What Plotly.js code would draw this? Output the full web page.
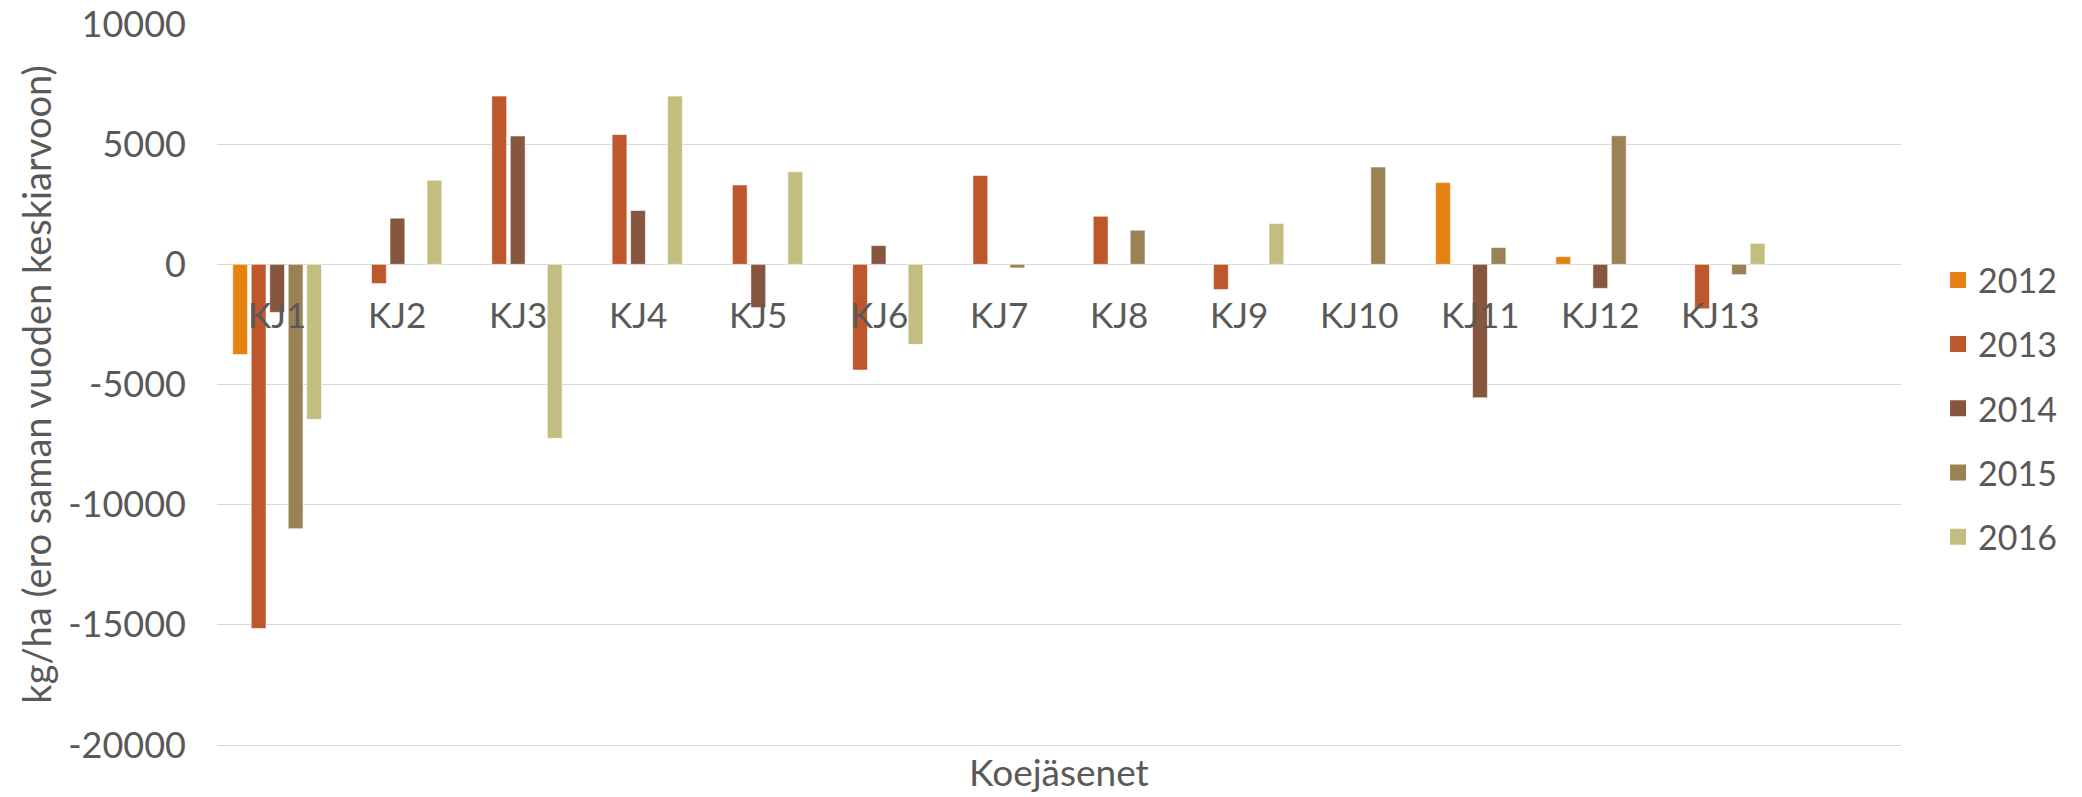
<!DOCTYPE html>
<html>
<head>
<meta charset="utf-8">
<script src="https://cdn.plot.ly/plotly-3.0.1.min.js"></script>
<style>html,body{margin:0;padding:0;background:#fff;}#chart{width:2082px;height:797px;}</style>
</head>
<body>
<div id="chart"></div>
<script>
// ---- data ----
var categories = ["KJ1","KJ2","KJ3","KJ4","KJ5","KJ6","KJ7","KJ8","KJ9","KJ10","KJ11","KJ12","KJ13"];
var seriesNames = ["2012","2013","2014","2015","2016"];
var y2012 = [-3750, null, null, null, null, null, null, null, null, null, 3400, 320, null];
var y2013 = [-15150, -800, 7000, 5400, 3300, -4400, 3700, 2000, -1050, null, null, null, -1850];
var y2014 = [-2000, 1920, 5340, 2240, -1800, 780, null, null, null, null, -5550, -1000, null];
var y2015 = [-11000, null, null, null, null, null, -150, 1420, null, 4050, 700, 5350, -430];
var y2016 = [-6450, 3500, -7240, 7000, 3850, -3330, null, null, 1700, null, null, null, 875];
var yTicks = [10000, 5000, 0, -5000, -10000, -15000, -20000];

var seriesValues = [y2012, y2013, y2014, y2015, y2016];
var colors = ["#E58212", "#BE582C", "#87563E", "#9B8255", "#C4BD80"];
var FONT = "Lato, 'Open Sans', sans-serif";
var TXT = "#595959";

var idx = categories.map(function(c, i){ return i; });

var traces = [];
seriesNames.forEach(function(name, k){
  traces.push({
    type: "bar",
    name: name,
    x: idx,
    y: seriesValues[k],
    legendgroup: name,
    showlegend: false,
    marker: {color: colors[k], line: {color: "rgba(255,255,255,0.55)", width: 1}},
    hoverinfo: "name+y"
  });
});
// legend entries with square keys
seriesNames.forEach(function(name, k){
  traces.push({
    type: "scatter",
    mode: "markers",
    name: name,
    x: [null],
    y: [null],
    legendgroup: name,
    showlegend: true,
    marker: {symbol: "square", size: 23, color: colors[k]},
    hoverinfo: "skip"
  });
});

// category labels sit just below the zero line, as in the original
var labelAnnotations = categories.map(function(c, i){
  return {
    xref: "x", yref: "y",
    x: idx[i], y: 0,
    text: c,
    showarrow: false,
    xanchor: "center", yanchor: "middle",
    yshift: -50,
    font: {family: FONT, size: 35, color: TXT}
  };
});

var layout = {
  width: 2082,
  height: 797,
  paper_bgcolor: "#ffffff",
  plot_bgcolor: "#ffffff",
  margin: {l: 217, r: 181, t: 24, b: 52, pad: 0},
  barmode: "group",
  bargap: 0.231,
  bargroupgap: 0.2,
  font: {family: FONT, color: TXT, size: 34},
  showlegend: true,
  legend: {
    x: 1.022, xanchor: "left",
    y: 0.467, yanchor: "middle",
    traceorder: "grouped",
    tracegroupgap: 17,
    itemsizing: "trace",
    font: {family: FONT, size: 34, color: TXT},
    bgcolor: "rgba(0,0,0,0)"
  },
  annotations: labelAnnotations,
  xaxis: {
    type: "linear",
    range: [-0.5, 13.5],
    showgrid: false,
    zeroline: false,
    showline: true,
    linecolor: "#D9D9D9",
    linewidth: 1.3,
    showticklabels: false,
    ticks: "",
    fixedrange: true,
    title: {text: "Koejäsenet", font: {family: FONT, size: 37, color: TXT}, standoff: 14}
  },
  yaxis: {
    range: [-20000, 10000],
    tickmode: "array",
    tickvals: yTicks,
    ticktext: yTicks.map(function(v){ return String(v); }),
    showgrid: true,
    gridcolor: "#D9D9D9",
    gridwidth: 1.3,
    zeroline: true,
    zerolinecolor: "#D9D9D9",
    zerolinewidth: 1.3,
    showline: false,
    ticks: "",
    ticklabelstandoff: 30,
    tickfont: {family: FONT, size: 36, color: TXT},
    fixedrange: true,
    title: {text: "kg/ha (ero saman vuoden keskiarvoon)", font: {family: FONT, size: 38, color: TXT}, standoff: 4}
  }
};

Plotly.newPlot("chart", traces, layout, {displayModeBar: false, staticPlot: true});
</script>
</body>
</html>
